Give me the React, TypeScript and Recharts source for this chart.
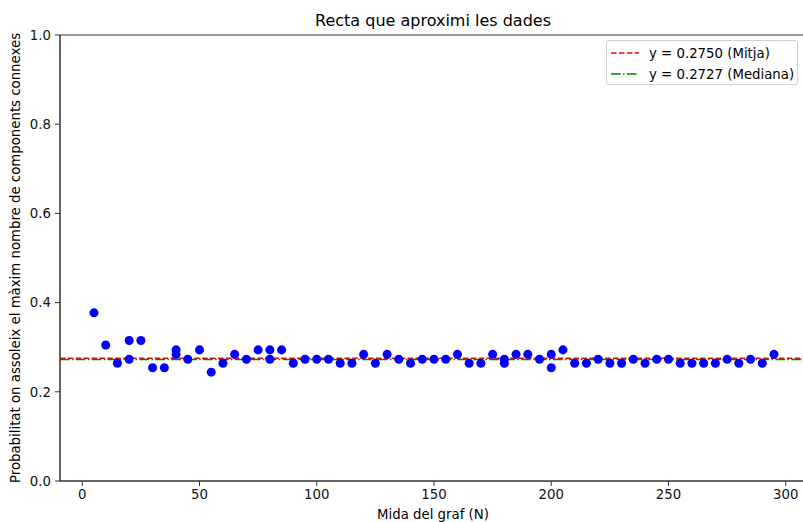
import React from "react";
import {
  ScatterChart,
  Scatter,
  XAxis,
  YAxis,
  ZAxis,
  ReferenceLine,
  ReferenceArea,
} from "recharts";

// Graph sizes (N) and observed probabilities
const sizes = [
  5, 10, 15, 20, 20, 25, 30, 35, 40, 40, 45, 50, 55, 60, 65, 70, 75, 80, 80, 85,
  90, 95, 100, 105, 110, 115, 120, 125, 130, 135, 140, 145, 150, 155, 160, 165,
  170, 175, 180, 180, 185, 190, 195, 200, 200, 205, 210, 215, 220, 225, 230, 235,
  240, 245, 250, 255, 260, 265, 270, 275, 280, 285, 290, 295,
];
const probabilities = [
  0.377, 0.305, 0.264, 0.315, 0.273, 0.315, 0.254, 0.254, 0.294, 0.284, 0.273,
  0.294, 0.244, 0.264, 0.284, 0.273, 0.294, 0.294, 0.273, 0.294, 0.264, 0.273,
  0.273, 0.273, 0.264, 0.264, 0.284, 0.264, 0.284, 0.273, 0.264, 0.273, 0.273,
  0.273, 0.284, 0.264, 0.264, 0.284, 0.273, 0.264, 0.284, 0.284, 0.273, 0.284,
  0.254, 0.294, 0.264, 0.264, 0.273, 0.264, 0.264, 0.273, 0.264, 0.273, 0.273,
  0.264, 0.264, 0.264, 0.264, 0.273, 0.264, 0.273, 0.264, 0.284,
];
const meanValue = 0.275;
const medianValue = 0.2727;
const xTicks = [0, 50, 100, 150, 200, 250, 300];
const yTicks = [0, 0.2, 0.4, 0.6, 0.8, 1.0];
const xDomain: [number, number] = [-9.5, 309.5];
const yDomain: [number, number] = [0, 1];

const title = "Recta que aproximi les dades";
const xLabel = "Mida del graf (N)";
const yLabel = "Probabilitat on assoleix el màxim nombre de components connexes";
const meanLabel = "y = 0.2750 (Mitja)";
const medianLabel = "y = 0.2727 (Mediana)";

const points = sizes.map((n, i) => ({ n, p: probabilities[i] }));

const FONT = "'DejaVu Sans', sans-serif";
const AXIS = "#333";
const MEAN_DASH = "5.5 2.4";
const MEDIAN_DASH = "9.6 2.4 1.5 2.4";

export default function App() {
  return (
    <div
      style={{
        position: "absolute",
        left: 0,
        top: 0,
        width: 803,
        height: 522,
        overflow: "hidden",
        background: "#fff",
        fontFamily: FONT,
      }}
    >
      <ScatterChart
        width={808}
        height={522}
        margin={{ top: 35, right: 0, bottom: 0, left: 0 }}
        style={{ fontFamily: FONT }}
      >
        <XAxis
          type="number"
          dataKey="n"
          domain={xDomain}
          ticks={xTicks}
          allowDataOverflow
          height={41}
          tickSize={5}
          tickMargin={4}
          stroke={AXIS}
          tick={{ fill: "#111", fontSize: 13.3, fontFamily: FONT }}
          tickLine={{ stroke: AXIS }}
        />
        <YAxis
          type="number"
          dataKey="p"
          domain={yDomain}
          ticks={yTicks}
          allowDataOverflow
          width={60}
          tickSize={5}
          tickMargin={4}
          stroke={AXIS}
          tickFormatter={(v: number) => v.toFixed(1)}
          tick={{ fill: "#111", fontSize: 13.3, fontFamily: FONT }}
          tickLine={{ stroke: AXIS }}
        />
        <ZAxis range={[80, 80]} />
        <ReferenceArea
          x1={xDomain[0]}
          x2={xDomain[1]}
          y1={yDomain[0]}
          y2={yDomain[1]}
          fill="none"
          stroke={AXIS}
          strokeWidth={1}
          fillOpacity={0}
        />
        <Scatter
          data={points}
          fill="#0000ff"
          isAnimationActive={false}
        />
        <ReferenceLine
          y={meanValue}
          stroke="#ff0000"
          strokeWidth={1.5}
          strokeDasharray={MEAN_DASH}
        />
        <ReferenceLine
          y={medianValue}
          stroke="#008000"
          strokeWidth={1.5}
          strokeDasharray={MEDIAN_DASH}
        />
      </ScatterChart>

      <svg
        width={803}
        height={522}
        style={{ position: "absolute", left: 0, top: 0, pointerEvents: "none" }}
      >
        <text
          x={433}
          y={26}
          textAnchor="middle"
          fontSize={16}
          fontFamily={FONT}
          fill="#000"
        >
          {title}
        </text>
        <text
          x={433}
          y={519}
          textAnchor="middle"
          fontSize={13.3}
          fontFamily={FONT}
          fill="#000"
        >
          {xLabel}
        </text>
        <text
          x={20}
          y={258}
          transform="rotate(-90 20 258)"
          textAnchor="middle"
          fontSize={13.3}
          fontFamily={FONT}
          fill="#000"
        >
          {yLabel}
        </text>
      </svg>

      <div
        style={{
          position: "absolute",
          left: 606,
          top: 40,
          width: 192,
          height: 45,
          border: "1px solid #d0d0d0",
          borderRadius: 3,
          background: "rgba(255,255,255,0.8)",
          boxSizing: "border-box",
          fontSize: 13.3,
          fontFamily: FONT,
          color: "#000",
        }}
      >
        {[
          { label: meanLabel, color: "#ff0000", dash: MEAN_DASH },
          { label: medianLabel, color: "#008000", dash: MEDIAN_DASH },
        ].map((e, i) => (
          <div
            key={i}
            style={{
              position: "absolute",
              left: 0,
              top: i === 0 ? 2 : 23,
              height: 20,
              display: "flex",
              alignItems: "center",
              whiteSpace: "nowrap",
            }}
          >
            <svg width={42} height={20} style={{ display: "block" }}>
              <line
                x1={4}
                x2={32}
                y1={10}
                y2={10}
                stroke={e.color}
                strokeWidth={1.5}
                strokeDasharray={e.dash}
              />
            </svg>
            <span>{e.label}</span>
          </div>
        ))}
      </div>
    </div>
  );
}
